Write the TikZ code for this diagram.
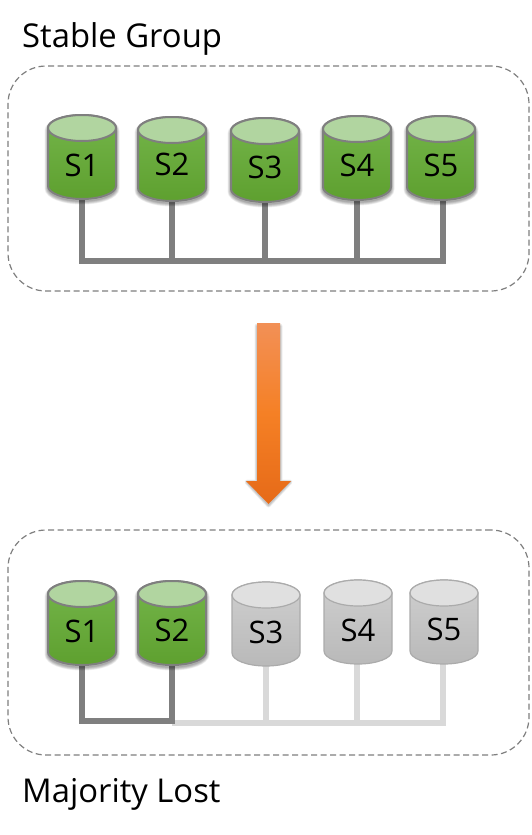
\documentclass[tikz,border=0pt]{standalone}
\usepackage{fontspec}
\setmainfont{Open Sans}
\pgfdeclarelayer{paper}
\pgfdeclarelayer{conn}
\pgfsetlayers{paper,conn,main}
\newcommand\cylpath[2]{(-34,#1+13) -- (-34,#2-13) .. controls (-34,#2-5.8) and (-18.8,#2) .. (0,#2) .. controls (18.8,#2) and (34,#2-5.8) .. (34,#2-13) -- (34,#1+13) .. controls (34,#1+5.8) and (18.8,#1) .. (0,#1) .. controls (-18.8,#1) and (-34,#1+5.8) .. (-34,#1+13) -- cycle}
% #1 name, #2 x, #3 top, #4 bottom, #5 label y, #6 text
\newcommand\greencyl[6]{%
  \begin{scope}[shift={(#2,0)}]
    \foreach \w in {1,2,...,7}{\draw[black,opacity=.055,line width=\w pt] \cylpath{#3+3}{#4+2};}
    \path[top color=grtop,bottom color=grbot,draw=cylline,line width=2pt] \cylpath{#3}{#4};
    \draw[fill=grcap,draw=cylline,line width=2pt] (0,#3+13) ellipse [x radius=34pt,y radius=13pt];
  \end{scope}
  \node[srv,minimum height={2*(#4-#5)*1pt}] (#1) at (#2,#5) {#6};}
\newcommand\graycyl[6]{%
  \begin{scope}[shift={(#2,0)}]
    \path[top color=gytop,bottom color=gybot,draw=gyline,line width=1.2pt] \cylpath{#3}{#4};
    \draw[fill=gycap,draw=gyline,line width=1.2pt] (0,#3+13) ellipse [x radius=34pt,y radius=13pt];
  \end{scope}
  \node[srv,minimum height={2*(#4-#5)*1pt}] (#1) at (#2,#5) {#6};}
\definecolor{grtop}{HTML}{74B54A}
\definecolor{grbot}{HTML}{5EA02F}
\definecolor{grcap}{HTML}{B1D5A0}
\definecolor{cylline}{HTML}{7F7F7F}
\definecolor{gytop}{HTML}{CFCFCF}
\definecolor{gybot}{HTML}{B9B9B9}
\definecolor{gycap}{HTML}{E0E0E0}
\definecolor{gyline}{HTML}{ABABAB}
\definecolor{busdark}{HTML}{7F7F7F}
\definecolor{buslight}{HTML}{D9D9D9}
\definecolor{frameline}{HTML}{7F7F7F}
\definecolor{arrA}{HTML}{F29056}
\definecolor{arrB}{HTML}{F58025}
\definecolor{arrC}{HTML}{E66A18}
\tikzset{
  srv/.style={inner sep=0pt,minimum width=68pt,font=\fontsize{31}{34}\selectfont,text=black},
  title/.style={inner sep=0pt,anchor=base west,font=\fontsize{32.8}{38}\selectfont,text=black},
  frame/.style={draw=frameline,line width=1.2pt,dash pattern=on 6pt off 3.5pt,rounded corners=38pt,inner sep=0pt,minimum width=521pt,minimum height=225pt},
  busd/.style={draw=busdark,line width=5.5pt,line join=miter},
  busl/.style={draw=buslight,line width=5.5pt,line join=miter},
}
\begin{document}
\begin{tikzpicture}[x=1pt,y=-1pt]
\useasboundingbox (0,0) rectangle (531,835);
\begin{pgfonlayer}{paper}
\fill[white] (0,0) rectangle (531,835);
\end{pgfonlayer}
\node[title] (t1) at (22,47) {Stable Group};
\node[title] (t2) at (22,802) {Majority Lost};
\node[frame] (f1) at (268.5,178.5) {};
\node[frame] (f2) at (268.5,642.5) {};
% arrow
\foreach \w in {1,2,...,5}{\draw[black,opacity=.05,line width=\w pt,line join=round] (257,326) -- (280,326) -- (280,482) -- (290,482) -- (268.5,505) -- (247,482) -- (257,482) -- cycle;}
\path[top color=arrA,bottom color=arrC,middle color=arrB] (257,323) -- (280,323) -- (280,481) -- (291,481) -- (268.5,504) -- (246,481) -- (257,481) -- cycle;
% upper servers
\greencyl{a1}{82}{115}{199}{165}{S1}
\greencyl{a2}{172}{117}{201}{164}{S2}
\greencyl{a3}{265}{118}{202}{167}{S3}
\greencyl{a4}{357}{116}{200}{165}{S4}
\greencyl{a5}{441}{116}{200}{165}{S5}
% lower servers
\greencyl{b1}{82}{581}{665}{631}{S1}
\greencyl{b2}{172}{581}{665}{630}{S2}
\graycyl{b3}{266}{582}{666}{632}{S3}
\graycyl{b4}{358}{580}{664}{630}{S4}
\graycyl{b5}{444}{580}{664}{629}{S5}
\coordinate (busA) at (0,261);
\coordinate (busB) at (0,723);
\coordinate (busC) at (0,721);
\begin{pgfonlayer}{conn}
  \draw[busd] (a1.south) -- (a1.south |- busA) -- ([xshift=2pt]a5.south |- busA) -- ([xshift=2pt]a5.south);
  \draw[busd] (a2.south) -- (a2.south |- busA);
  \draw[busd] (a3.south) -- (a3.south |- busA);
  \draw[busd] (a4.south) -- (a4.south |- busA);
  \draw[busl] ([xshift=-1pt]b5.south) -- ([xshift=-1pt]b5.south |- busB) -- (b2.south |- busB);
  \draw[busl] (b3.south) -- (b3.south |- busB);
  \draw[busl] ([xshift=-1pt]b4.south) -- ([xshift=-1pt]b4.south |- busB);
  \draw[busd] (b1.south) -- (b1.south |- busC) -- (b2.south |- busC) -- (b2.south);
\end{pgfonlayer}
\end{tikzpicture}
\end{document}
